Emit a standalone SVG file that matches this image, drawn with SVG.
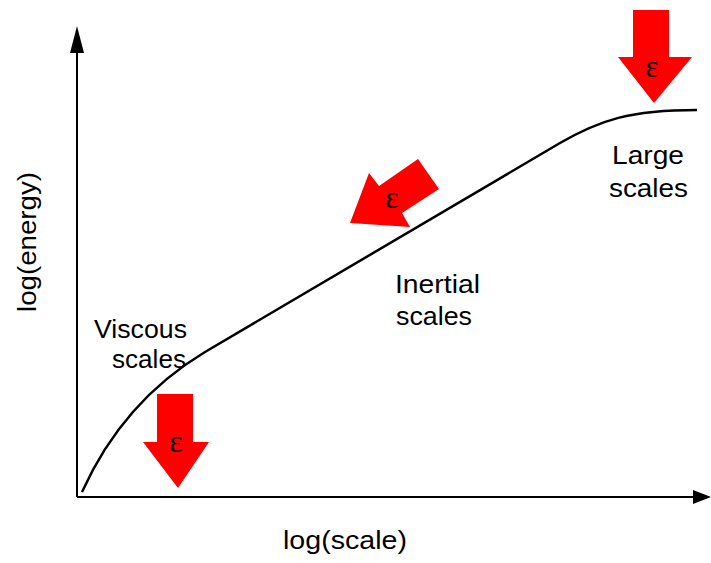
<svg xmlns="http://www.w3.org/2000/svg" width="711" height="563" viewBox="0 0 711 563">
<style>
.lbl{font-family:"Liberation Sans",Arial,sans-serif;font-size:26px;fill:#000}
.eps{font-family:"Liberation Serif","Times New Roman",serif;font-size:32px;fill:#000;text-anchor:middle}
.axis{stroke:#000;stroke-width:2;fill:none}
.arr{fill:#ff0000;stroke:none}
</style>
<rect width="711" height="563" fill="#fff"/>
<g id="axes">
<line class="axis" x1="77" y1="497" x2="77" y2="45"/>
<polygon points="77,26 70,53 84,53" fill="#000"/>
<line class="axis" x1="77" y1="497" x2="698" y2="497"/>
<polygon points="711,497 693,490 693,504" fill="#000"/>
</g>
<g id="curve">
<path d="M82,492 C110,430 150,385 205,352 L560,143 C600,120 630,110 697,110" fill="none" stroke="#000" stroke-width="2.5"/>
</g>
<g id="axis-labels">
<text class="lbl" x="283" y="549" textLength="124" lengthAdjust="spacingAndGlyphs">log(scale)</text>
<text class="lbl" transform="translate(36,312) rotate(-90)" x="0" y="0" textLength="140" lengthAdjust="spacingAndGlyphs">log(energy)</text>
</g>
<g id="viscous">
<text class="lbl" x="94" y="338" textLength="93" lengthAdjust="spacingAndGlyphs">Viscous</text>
<text class="lbl" x="112" y="368" textLength="74" lengthAdjust="spacingAndGlyphs">scales</text>
</g>
<g id="inertial">
<text class="lbl" x="395" y="293" textLength="85" lengthAdjust="spacingAndGlyphs">Inertial</text>
<text class="lbl" x="396" y="325" textLength="76" lengthAdjust="spacingAndGlyphs">scales</text>
</g>
<g id="large">
<text class="lbl" x="612" y="164" textLength="72" lengthAdjust="spacingAndGlyphs">Large</text>
<text class="lbl" x="609" y="197" textLength="79" lengthAdjust="spacingAndGlyphs">scales</text>
</g>
<g id="arrow-large">
<polygon class="arr" points="633,10 669,10 669,57 692,57 654,103 618,57 633,57"/>
<text class="eps" x="652" y="77">ε</text>
</g>
<g id="arrow-inertial">
<polygon class="arr" points="418,159 439,189 402,213 410,227 350,223 369,173 379,186"/>
<text class="eps" x="392" y="208">ε</text>
</g>
<g id="arrow-viscous">
<polygon class="arr" points="157,394 193,394 193,442 209,442 178,488 143,442 157,442"/>
<text class="eps" x="176" y="452">ε</text>
</g>
</svg>
